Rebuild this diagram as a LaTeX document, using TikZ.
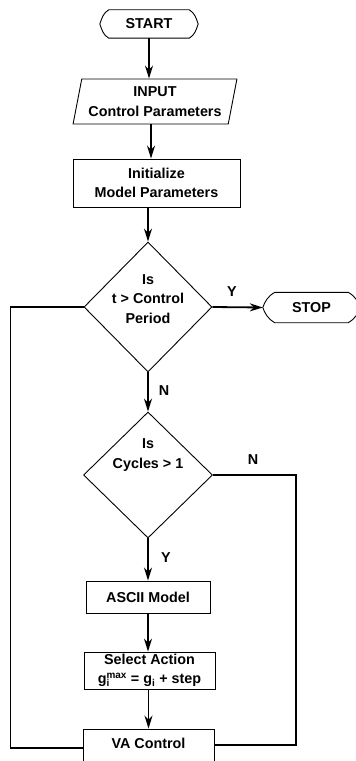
\documentclass[tikz,border=0pt]{standalone}
\usepackage{fontspec}
\setmainfont{Liberation Sans}
\usetikzlibrary{shapes.geometric,arrows.meta,positioning,calc}

\begin{document}
\begin{tikzpicture}[x=1bp, y=-1bp,
  txt/.style={inner sep=0pt, align=center, font=\fontsize{14.4}{19.5}\selectfont\bfseries},
  box/.style={txt, draw, line width=0.9bp},
  term/.style={txt, minimum height=28bp},
  dec/.style={diamond, draw, line width=0.9bp, inner sep=0pt},
  io/.style={box, trapezium, trapezium left angle=75, trapezium right angle=105, trapezium stretches=true},
  flow/.style={line width=1.8bp, -{Stealth[length=13bp,width=8bp]}},
  back/.style={line width=1.8bp}
]
  \useasboundingbox (0,0) rectangle (355,761);

  % terminals
  \node[term, minimum width=80bp] (start) at (149,24) {START};
  \node[term, minimum width=73bp, minimum height=30bp] (stop) at (311.5,307.5) {STOP};
  \foreach \t/\d in {start/9, stop/12} {
    \coordinate (\t-l) at ($(\t.west)+(-\d,0)$);
    \coordinate (\t-r) at ($(\t.east)+(\d,0)$);
    \draw[line width=0.9bp] (\t.north west) -- (\t.north east)
      to[out=-30, in=110] (\t-r) to[out=-110, in=30] (\t.south east)
      -- (\t.south west) to[out=150, in=-70] (\t-l) to[out=70, in=-150] (\t.north west) -- cycle;
  }

  % process steps
  \node[io, minimum width=164bp, minimum height=45bp] (input) at (155,101.5) {INPUT\\Control Parameters};
  \node[box, minimum width=167bp, minimum height=48bp] (init) at (156.5,183) {Initialize\\Model Parameters};
  \node[dec, minimum width=128bp, minimum height=130bp] (d1) at (148,307) {};
  \node[txt] (d1txt) at (148,299) {Is\\t > Control\\Period};
  \node[dec, minimum width=129bp, minimum height=126bp] (d2) at (148,475) {};
  \node[txt] (d2txt) at (148,455) {Is\\Cycles > 1};
  \node[box, minimum width=124bp, minimum height=32bp] (ascii) at (148,597) {ASCII Model};
  \node[box, minimum width=131bp, minimum height=37bp] (select) at (149.5,670.5)
    {Select Action\\g\rlap{\textsubscript{i}}\textsuperscript{max} = g\textsubscript{i} + step};
  \node[box, minimum width=131bp, minimum height=34bp, text depth=6bp] (va) at (148.5,746) {VA Control};

  % branch labels
  \node[txt] (y1) at (232,292) {Y};
  \node[txt] (n1) at (164,391) {N};
  \node[txt] (n2) at (253,460) {N};
  \node[txt] (y2) at (166,558) {Y};

  % main flow
  \draw[flow] (start.south) -- (start.south |- input.north);
  \draw[flow] ([xshift=-4bp]input.south) -- ([xshift=-4bp]input.south |- init.north);
  \draw[flow] (d1.north |- init.south) -- (d1.north);
  \draw[flow] (d1.east) -- (stop-l);
  \draw[flow] (d1.south) -- (d2.north);
  \draw[flow] (d2.south) -- (ascii.north);
  \draw[flow] (ascii.south) -- (ascii.south |- select.north);
  \draw[flow] (va.north |- select.south) -- (va.north);

  % feedback lines
  \coordinate (lft) at (10.5,748);
  \coordinate (rgt) at (296,745);
  \draw[back] (d1.west) -| (lft) -- (lft -| va.west);
  \draw[back] (d2.east) -| (rgt) -- (rgt -| va.east);
\end{tikzpicture}
\end{document}
